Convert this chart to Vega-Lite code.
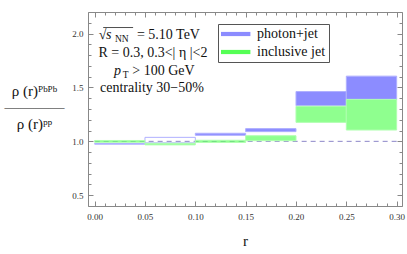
{
  "$schema": "https://vega.github.io/schema/vega-lite/v6.json",
  "autosize": "none",
  "width": 314,
  "height": 194,
  "padding": {"left": 88, "top": 12, "right": 5, "bottom": 48},
  "background": "white",
  "config": {"view": {"stroke": null}},
  "layer": [
    {
      "data": {"values": [{}]},
      "mark": {"type": "rule", "color": "#8c86c8", "strokeDash": [5, 4], "strokeWidth": 1},
      "encoding": {
        "x": {"datum": 0, "type": "quantitative",
          "scale": {"domain": [-0.0066, 0.3053], "nice": false, "zero": false},
          "axis": {
            "orient": "bottom", "title": "r", "grid": false,
            "values": [0,0.01,0.02,0.03,0.04,0.05,0.06,0.07,0.08,0.09,0.1,0.11,0.12,0.13,0.14,0.15,0.16,0.17,0.18,0.19,0.2,0.21,0.22,0.23,0.24,0.25,0.26,0.27,0.28,0.29,0.3],
            "labelExpr": "abs(datum.value*20-round(datum.value*20))<0.001 ? format(datum.value,'.2f') : ''",
            "tickSize": {"condition": {"test": "abs(datum.value*20-round(datum.value*20))<0.001", "value": -5}, "value": -3},
            "labelPadding": 11, "labelFont": "Liberation Serif", "labelFontSize": 9, "labelColor": "#333",
            "labelOverlap": false, "labelFlush": false,
            "tickColor": "#888", "domainColor": "#888",
            "titleFont": "Liberation Serif", "titleFontSize": 15, "titleFontWeight": "normal", "titleColor": "#111", "titlePadding": 10
          }
        },
        "x2": {"datum": 0.3},
        "y": {"datum": 1, "type": "quantitative",
          "scale": {"domain": [0.4, 2.2], "nice": false, "zero": false},
          "axis": {
            "orient": "left", "grid": false,
            "title": ["ρ (r)ᴾᵇᴾᵇ", "————", "ρ (r)ᵖᵖ"],
            "values": [0.4,0.5,0.6,0.7,0.8,0.9,1,1.1,1.2,1.3,1.4,1.5,1.6,1.7,1.8,1.9,2,2.1,2.2],
            "labelExpr": "abs(datum.value*2-round(datum.value*2))<0.001 ? format(datum.value,'.1f') : ''",
            "tickSize": {"condition": {"test": "abs(datum.value*2-round(datum.value*2))<0.001", "value": -5}, "value": -3},
            "labelPadding": 10, "labelFont": "Liberation Serif", "labelFontSize": 9, "labelColor": "#333",
            "labelOverlap": false, "labelFlush": false,
            "tickColor": "#888", "domainColor": "#888",
            "titleFont": "Liberation Serif", "titleFontSize": 15, "titleFontWeight": "normal", "titleColor": "#111",
            "titleAngle": 0, "titleAlign": "center", "titleBaseline": "middle", "titleX": -54, "titleY": 78, "titleLineHeight": 16.5
          }
        }
      }
    },
    {
      "data": {"values": [
        {"series": "photon+jet", "r0": 0.00, "r1": 0.05, "lo": 0.974, "hi": 0.980},
        {"series": "photon+jet", "r0": 0.05, "r1": 0.10, "lo": 0.986, "hi": 1.037},
        {"series": "photon+jet", "r0": 0.10, "r1": 0.15, "lo": 1.056, "hi": 1.075},
        {"series": "photon+jet", "r0": 0.15, "r1": 0.20, "lo": 1.090, "hi": 1.118},
        {"series": "photon+jet", "r0": 0.20, "r1": 0.25, "lo": 1.330, "hi": 1.462},
        {"series": "photon+jet", "r0": 0.25, "r1": 0.30, "lo": 1.389, "hi": 1.605},
        {"series": "inclusive jet", "r0": 0.00, "r1": 0.05, "lo": 0.991, "hi": 1.008},
        {"series": "inclusive jet", "r0": 0.05, "r1": 0.10, "lo": 0.967, "hi": 0.982},
        {"series": "inclusive jet", "r0": 0.10, "r1": 0.15, "lo": 0.990, "hi": 1.010},
        {"series": "inclusive jet", "r0": 0.15, "r1": 0.20, "lo": 1.006, "hi": 1.052},
        {"series": "inclusive jet", "r0": 0.20, "r1": 0.25, "lo": 1.176, "hi": 1.325},
        {"series": "inclusive jet", "r0": 0.25, "r1": 0.30, "lo": 1.105, "hi": 1.389}
      ]},
      "mark": {"type": "rect", "strokeWidth": 1},
      "encoding": {
        "x": {"field": "r0", "type": "quantitative",
          "scale": {"domain": [-0.0066, 0.3053], "nice": false, "zero": false},
          "axis": {
            "orient": "top", "title": null, "labels": false, "grid": false,
            "values": [0,0.01,0.02,0.03,0.04,0.05,0.06,0.07,0.08,0.09,0.1,0.11,0.12,0.13,0.14,0.15,0.16,0.17,0.18,0.19,0.2,0.21,0.22,0.23,0.24,0.25,0.26,0.27,0.28,0.29,0.3],
            "tickSize": {"condition": {"test": "abs(datum.value*20-round(datum.value*20))<0.001", "value": -5}, "value": -3},
            "tickColor": "#888", "domainColor": "#888"
          }
        },
        "x2": {"field": "r1"},
        "y": {"field": "lo", "type": "quantitative",
          "scale": {"domain": [0.4, 2.2], "nice": false, "zero": false},
          "axis": {
            "orient": "right", "title": null, "labels": false, "grid": false,
            "values": [0.4,0.5,0.6,0.7,0.8,0.9,1,1.1,1.2,1.3,1.4,1.5,1.6,1.7,1.8,1.9,2,2.1,2.2],
            "tickSize": {"condition": {"test": "abs(datum.value*2-round(datum.value*2))<0.001", "value": -5}, "value": -3},
            "tickColor": "#888", "domainColor": "#888"
          }
        },
        "y2": {"field": "hi"},
        "fill": {"field": "series", "type": "nominal",
          "scale": {"domain": ["photon+jet", "inclusive jet"], "range": ["#8c8cff", "#55ff55"]},
          "legend": {
            "orient": "none", "legendX": 130, "legendY": 12, "title": null,
            "symbolType": "M-1,-0.3H3.2V0.3H-1Z", "symbolSize": 196, "symbolStrokeWidth": 0, "symbolOpacity": 1,
            "labelFont": "Liberation Serif", "labelFontSize": 14, "labelColor": "#111", "labelOffset": 22,
            "rowPadding": 4, "padding": 3, "strokeColor": "#555", "fillColor": "white"
          }
        },
        "stroke": {"field": "series", "type": "nominal",
          "scale": {"domain": ["photon+jet", "inclusive jet"], "range": ["#b0b0ff", "#b0ffb0"]},
          "legend": null
        },
        "fillOpacity": {
          "condition": {"test": "datum.series == 'photon+jet' && datum.r0 == 0.05", "value": 0},
          "field": "series", "type": "nominal",
          "scale": {"domain": ["photon+jet", "inclusive jet"], "range": [1, 0.66]},
          "legend": null
        }
      }
    },
    {
      "data": {"values": [{}]},
      "mark": {"type": "rule", "color": "#222", "strokeWidth": 0.8},
      "encoding": {
        "x": {"datum": 0.0085, "type": "quantitative", "axis": null},
        "x2": {"datum": 0.0382},
        "y": {"datum": 2.056, "type": "quantitative", "axis": null}
      }
    },
    {
      "data": {"values": [
        {"x": 0.0579, "y": 1.815, "t": "R = 0.3, 0.3<| η |<2"},
        {"x": 0.0569, "y": 1.496, "t": "centrality  30−50%"}
      ]},
      "mark": {"type": "text", "font": "Liberation Serif", "fontSize": 14, "align": "center", "baseline": "middle", "color": "#111"},
      "encoding": {
        "x": {"field": "x", "type": "quantitative", "axis": null},
        "y": {"field": "y", "type": "quantitative", "axis": null},
        "text": {"field": "t"}
      }
    },
    {
      "data": {"values": [
        {"x": 0.004, "y": 1.984, "t": "√"},
        {"x": 0.042, "y": 1.984, "t": "= 5.10 TeV"},
        {"x": 0.0374, "y": 1.651, "t": "> 100 GeV"}
      ]},
      "mark": {"type": "text", "font": "Liberation Serif", "fontSize": 14, "align": "left", "baseline": "middle", "color": "#111"},
      "encoding": {
        "x": {"field": "x", "type": "quantitative", "axis": null},
        "y": {"field": "y", "type": "quantitative", "axis": null},
        "text": {"field": "t"}
      }
    },
    {
      "data": {"values": [
        {"x": 0.0113, "y": 1.984, "t": "s"},
        {"x": 0.0192, "y": 1.651, "t": "p"}
      ]},
      "mark": {"type": "text", "font": "Liberation Serif", "fontSize": 14, "fontStyle": "italic", "align": "left", "baseline": "middle", "color": "#111"},
      "encoding": {
        "x": {"field": "x", "type": "quantitative", "axis": null},
        "y": {"field": "y", "type": "quantitative", "axis": null},
        "text": {"field": "t"}
      }
    },
    {
      "data": {"values": [
        {"x": 0.0202, "y": 1.984, "t": "NN"},
        {"x": 0.0278, "y": 1.651, "t": "T"}
      ]},
      "mark": {"type": "text", "font": "Liberation Serif", "fontSize": 9.5, "align": "left", "baseline": "middle", "dy": 4, "color": "#111"},
      "encoding": {
        "x": {"field": "x", "type": "quantitative", "axis": null},
        "y": {"field": "y", "type": "quantitative", "axis": null},
        "text": {"field": "t"}
      }
    }
  ],
  "resolve": {"axis": {"x": "independent", "y": "independent"}}
}
